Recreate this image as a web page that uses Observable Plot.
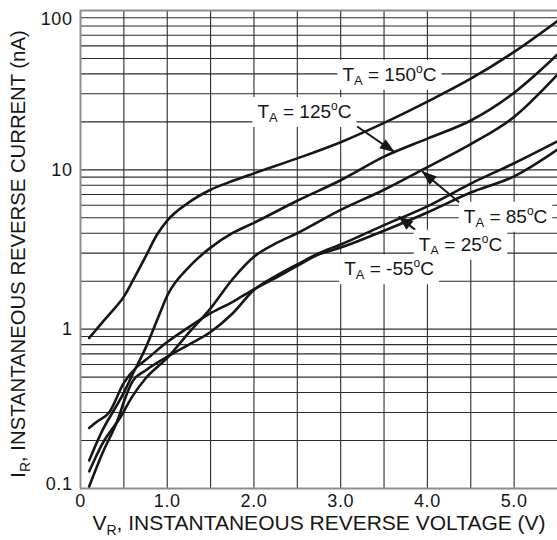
<!DOCTYPE html>
<html><head><meta charset="utf-8">
<script src="https://cdn.jsdelivr.net/npm/d3@7"></script>
<script src="https://cdn.jsdelivr.net/npm/@observablehq/plot@0.6"></script>
<style>
html,body{margin:0;padding:0;background:#fff;}
svg{display:block;}
</style></head><body>
<div id="chart"></div>
<script>
// ---- Data ----
const v150 = [0.1,0.25,0.35,0.5,0.6,0.75,0.88,1.0,1.25,1.5,1.75,2.0,2.5,3.0,3.5,4.0,4.5,5.0,5.5];
const i150 = [0.88,1.1,1.27,1.6,2.0,2.85,3.9,4.8,6.25,7.5,8.5,9.5,11.8,14.9,19.7,26.8,37.3,55,86];

const v125 = [0.1,0.25,0.4,0.5,0.6,0.75,0.9,1.0,1.25,1.5,1.75,2.0,2.5,3.0,3.5,4.0,4.5,5.0,5.5];
const i125 = [0.15,0.23,0.32,0.40,0.52,0.76,1.2,1.62,2.45,3.25,4.0,4.65,6.4,8.6,12.1,15.7,20.4,30.5,53];

const v85 = [0.1,0.25,0.46,0.6,0.75,1.0,1.25,1.5,1.75,2.0,2.25,2.5,3.0,3.5,4.0,4.5,5.0,5.5];
const i85 = [0.128,0.19,0.28,0.38,0.49,0.66,0.95,1.35,2.05,2.85,3.45,4.0,5.6,7.5,10.4,14.5,21.5,39.6];

const v25 = [0.1,0.25,0.44,0.5,0.6,0.75,1.0,1.25,1.5,1.75,2.0,2.25,2.5,2.75,3.0,3.5,4.0,4.5,5.0,5.5];
const i25 = [0.103,0.165,0.28,0.35,0.47,0.55,0.67,0.80,0.96,1.25,1.76,2.15,2.55,3.0,3.4,4.5,5.9,8.2,11.0,15.1];

const vm55 = [0.1,0.2,0.33,0.5,0.65,0.75,1.0,1.25,1.5,1.75,2.0,2.25,2.5,2.75,3.0,3.5,4.0,4.5,5.0,5.5];
const im55 = [0.24,0.265,0.30,0.46,0.58,0.64,0.83,1.03,1.26,1.48,1.78,2.1,2.5,2.95,3.25,4.15,5.4,7.2,9.1,13.4];

const temps = ["150","125","85","25","-55"];

// ticks / grid
const xTicks = [0,1,2,3,4,5];
const xTickLabels = ["0","1.0","2.0","3.0","4.0","5.0"];
const xGrid = [0.5,1,1.5,2,2.5,3,3.5,4,4.5,5];
const yTicks = [0.1,1,10,100];
const yTickLabels = ["0.1","1","10","100"];
const yGrid = [0.2,0.3,0.4,0.5,0.6,0.7,0.8,0.9,1,2,3,4,5,6,7,8,9,10,20,30,40,50,60,70,80,90];

// annotations (text uses | to mark subscript / superscript parts)
const labelText = ["T|A| = 150|o|C","T|A| = 125|o|C","T|A| = 85|o|C","T|A| = 25|o|C","T|A| = -55|o|C"];
const labelX = [3.02, 2.04, 4.42, 3.90, 3.04];
const labelY = [39.5, 23.1, 5.08, 3.39, 2.38];
const arrowX1 = [3.19, 4.40, 3.86];
const arrowY1 = [18.7, 6.03, 4.2];
const arrowX2 = [3.63, 3.94, 3.67];
const arrowY2 = [12.8, 9.75, 5.1];

// ---- Build tables ----
const seriesV = [v150, v125, v85, v25, vm55];
const seriesI = [i150, i125, i85, i25, im55];
const rows = temps.flatMap((t, s) => seriesV[s].map((v, k) => ({temp: t, v, i: seriesI[s][k]})));
const labels = labelText.map((t, k) => ({t, x: labelX[k], y: labelY[k]}));
const arrows = arrowX1.map((x1, k) => ({x1, y1: arrowY1[k], x2: arrowX2[k], y2: arrowY2[k]}));
const xFmt = new Map(xTicks.map((d, k) => [d, xTickLabels[k]]));
const yFmt = new Map(yTicks.map((d, k) => [d, yTickLabels[k]]));

const FONT = "'Liberation Sans', Arial, Helvetica, sans-serif";
const ink = "#161616";
const tickStyle = {tickSize: 0, label: null, fontSize: 18, tickFormat: null};

const plot = Plot.plot({
  width: 557, height: 540,
  marginLeft: 80, marginRight: 0, marginTop: 10, marginBottom: 52,
  style: {fontFamily: FONT, fontSize: "18px", color: ink, background: "#fff"},
  x: {domain: [0, 5.5], label: null},
  y: {type: "log", domain: [0.1, 100], label: null},
  marks: [
    Plot.ruleX(xGrid, {stroke: "#2b2b2b", strokeWidth: 1.1}),
    Plot.ruleY(yGrid, {stroke: "#2b2b2b", strokeWidth: 1.1}),
    Plot.ruleX([0], {stroke: "#8e8e8e", strokeWidth: 2}),
    Plot.ruleY([0.1, 100], {stroke: "#8e8e8e", strokeWidth: 2}),
    Plot.line(rows, {x: "v", y: "i", z: "temp", stroke: ink, strokeWidth: 2.6, curve: "monotone-x"}),
    Plot.link(arrows, {x1: "x1", y1: "y1", x2: "x2", y2: "y2", stroke: ink, strokeWidth: 2}),
    Plot.text(labels, {x: "x", y: "y", text: "t", textAnchor: "start", fontSize: 19, fill: ink}),
    Plot.axisX(xTicks, {...tickStyle, tickPadding: 6, tickFormat: d => xFmt.get(d)}),
    Plot.axisY([1, 10], {...tickStyle, tickPadding: 8, tickFormat: d => yFmt.get(d)}),
    Plot.axisY([0.1], {...tickStyle, tickPadding: 8, tickFormat: d => yFmt.get(d), dy: -4}),
    Plot.axisY([100], {...tickStyle, tickPadding: 8, tickFormat: d => yFmt.get(d), dy: 9})
  ]
});
document.getElementById("chart").append(plot);

const svg = d3.select(plot);
const sx = plot.scale("x"), sy = plot.scale("y");

// slightly wider tick digits, as in the reference
svg.selectAll("g[aria-label='x-axis tick label'] text, g[aria-label='y-axis tick label'] text")
  .attr("letter-spacing", "0.6px");

// rich annotation labels with white boxes
svg.selectAll("text").each(function() {
  const t = this.textContent;
  if (!t.includes("|")) return;
  const parts = t.split("|");
  const el = d3.select(this);
  el.text(null);
  el.append("tspan").text(parts[0]);
  el.append("tspan").attr("font-size", 13).attr("dy", 4).text(parts[1]);
  el.append("tspan").attr("dy", -4).text(parts[2]);
  el.append("tspan").attr("font-size", 12).attr("dy", -8).text(parts[3]);
  el.append("tspan").attr("dy", 8).text(parts[4]);
  const b = this.getBBox();
  const r = document.createElementNS("http://www.w3.org/2000/svg", "rect");
  r.setAttribute("x", b.x - 5);
  r.setAttribute("y", b.y - 2);
  r.setAttribute("width", b.width + 10);
  r.setAttribute("height", b.height + 4);
  r.setAttribute("fill", "#fff");
  if (this.getAttribute("transform")) r.setAttribute("transform", this.getAttribute("transform"));
  this.parentNode.insertBefore(r, this);
});

// filled arrowheads
arrows.forEach(a => {
  const p1 = [sx.apply(a.x1), sy.apply(a.y1)];
  const p2 = [sx.apply(a.x2), sy.apply(a.y2)];
  const dx = p2[0] - p1[0], dy = p2[1] - p1[1];
  const L = Math.hypot(dx, dy), ux = dx / L, uy = dy / L, nx = -uy, ny = ux;
  const hl = 15, hw = 5.5;
  const bx = p2[0] - ux * hl, by = p2[1] - uy * hl;
  svg.append("path")
    .attr("d", `M${p2[0]},${p2[1]}L${bx + nx * hw},${by + ny * hw}L${bx - nx * hw},${by - ny * hw}Z`)
    .attr("fill", ink);
});

// axis titles
const xt = svg.append("text").attr("x", 319).attr("y", 530).attr("text-anchor", "middle")
  .attr("font-size", 21).attr("fill", ink).attr("font-family", FONT);
xt.append("tspan").text("V");
xt.append("tspan").attr("font-size", 14).attr("dy", 5).text("R");
xt.append("tspan").attr("dy", -5).text(", INSTANTANEOUS REVERSE VOLTAGE (V)");

const yt = svg.append("text").attr("transform", "translate(25,254) rotate(-90)").attr("text-anchor", "middle")
  .attr("font-size", 20.3).attr("fill", ink).attr("font-family", FONT);
yt.append("tspan").text("I");
yt.append("tspan").attr("font-size", 14).attr("dy", 5).text("R");
yt.append("tspan").attr("dy", -5).text(", INSTANTANEOUS REVERSE CURRENT (nA)");
</script>
</body></html>
